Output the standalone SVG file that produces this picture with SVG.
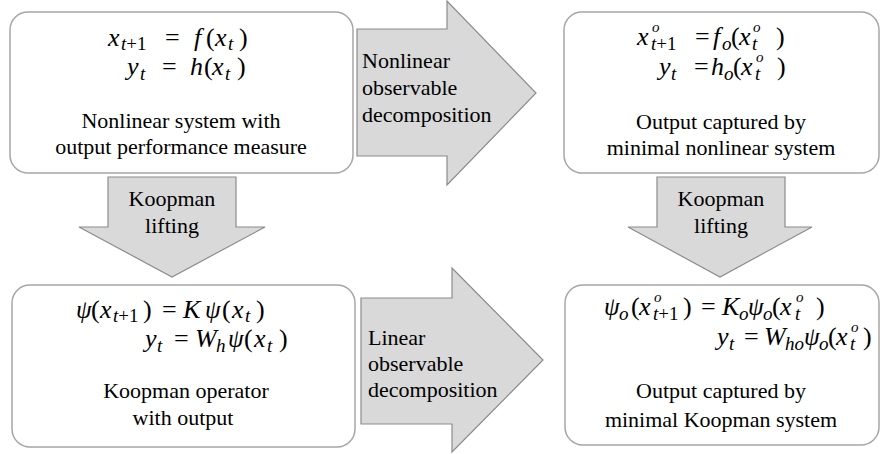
<svg xmlns="http://www.w3.org/2000/svg" width="882" height="454" viewBox="0 0 882 454" font-family="Liberation Serif">
<style>
.box{fill:#fff;stroke:#a6a6a6;stroke-width:1.5}
.arr{fill:#d9d9d9;stroke:#8c8c8c;stroke-width:1.2}
text{fill:#000}
.t{font-size:22px}
.c{text-anchor:middle}
.m{font-size:26px}
.i{font-style:italic}
.s{font-size:19px}
.p{font-size:15px}
.g{font-size:25px}
</style>
<rect width="882" height="454" fill="#fff"/>
<g id="connectors" font-family="Liberation Serif">
<g id="arrow-nonlinear-decomp">
<polygon class="arr" points="357,29 447,29 447,1 536,93 447,185 447,156 357,156"/>
<text class="t" font-family="Liberation Serif" x="362" y="68">Nonlinear</text>
<text class="t" font-family="Liberation Serif" x="362" y="95">observable</text>
<text class="t" font-family="Liberation Serif" x="362" y="122">decomposition</text>
</g>
<g id="arrow-linear-decomp">
<polygon class="arr" points="361,298 452,298 452,268 543,360 452,452 452,424 361,424"/>
<text class="t" font-family="Liberation Serif" x="368" y="345">Linear</text>
<text class="t" font-family="Liberation Serif" x="368" y="371">observable</text>
<text class="t" font-family="Liberation Serif" x="368" y="397">decomposition</text>
</g>
<g id="arrow-lift-left">
<polygon class="arr" points="108,177 236,177 236,227 265,227 172,277 79,227 108,227"/>
<text class="t c" font-family="Liberation Serif" x="172" y="206">Koopman</text>
<text class="t c" font-family="Liberation Serif" x="172" y="233">lifting</text>
</g>
<g id="arrow-lift-right">
<polygon class="arr" points="657,177 785,177 785,227 812,227 720,277 628,227 657,227"/>
<text class="t c" font-family="Liberation Serif" x="721" y="206">Koopman</text>
<text class="t c" font-family="Liberation Serif" x="721" y="233">lifting</text>
</g>
</g>
<g id="node-nonlinear" font-family="Liberation Serif">
<rect class="box" x="10" y="12" width="343" height="161" rx="18"/>
<text class="m" font-family="Liberation Serif"><tspan class="i" x="108" y="46">x</tspan><tspan class="s" x="121" y="50"><tspan class="i">t</tspan>+1</tspan><tspan x="165" y="46">=</tspan><tspan class="i" x="194" y="46">f</tspan><tspan x="206" y="46">(</tspan><tspan class="i" x="215" y="46">x</tspan><tspan class="s i" x="228" y="50">t</tspan><tspan x="239" y="46">)</tspan></text>
<text class="m" font-family="Liberation Serif"><tspan class="i" x="127" y="75">y</tspan><tspan class="s i" x="140" y="80">t</tspan><tspan x="162" y="75">=</tspan><tspan class="i" x="190" y="75">h</tspan><tspan x="204" y="75">(</tspan><tspan class="i" x="212" y="75">x</tspan><tspan class="s i" x="225" y="80">t</tspan><tspan x="237" y="75">)</tspan></text>
<text class="t c" font-family="Liberation Serif" x="181" y="128">Nonlinear system with</text>
<text class="t c" font-family="Liberation Serif" x="181" y="154">output performance measure</text>
</g>
<g id="node-minimal-nonlinear" font-family="Liberation Serif">
<rect class="box" x="564" y="12" width="315" height="161" rx="18"/>
<text class="m" font-family="Liberation Serif"><tspan class="i" x="637" y="45">x</tspan><tspan class="p i" x="652" y="32">o</tspan><tspan class="s" x="651" y="50"><tspan class="i">t</tspan>+1</tspan><tspan x="695" y="45">=</tspan><tspan class="i" x="713" y="45">f</tspan><tspan class="s i" x="722" y="50">o</tspan><tspan x="731" y="45">(</tspan><tspan class="i" x="739" y="45">x</tspan><tspan class="p i" x="753" y="32">o</tspan><tspan class="s i" x="752" y="50">t</tspan><tspan x="776" y="45">)</tspan></text>
<text class="m" font-family="Liberation Serif"><tspan class="i" x="659" y="75">y</tspan><tspan class="s i" x="671" y="80">t</tspan><tspan x="694" y="75">=</tspan><tspan class="i" x="711" y="75">h</tspan><tspan class="s i" x="724" y="80">o</tspan><tspan x="733" y="75">(</tspan><tspan class="i" x="741" y="75">x</tspan><tspan class="p i" x="756" y="62">o</tspan><tspan class="s i" x="755" y="80">t</tspan><tspan x="777" y="75">)</tspan></text>
<text class="t c" font-family="Liberation Serif" x="721" y="129">Output captured by</text>
<text class="t c" font-family="Liberation Serif" x="721" y="155">minimal nonlinear system</text>
</g>
<g id="node-koopman" font-family="Liberation Serif">
<rect class="box" x="12" y="285" width="343" height="162" rx="18"/>
<text class="m" font-family="Liberation Serif"><tspan class="i g" x="76" y="318">ψ</tspan><tspan x="91" y="318">(</tspan><tspan class="i" x="100" y="318">x</tspan><tspan class="s" x="113" y="322"><tspan class="i">t</tspan>+1</tspan><tspan x="143" y="318">)</tspan><tspan x="162" y="318">=</tspan><tspan class="i" x="183" y="318">K</tspan><tspan class="i g" x="205" y="318">ψ</tspan><tspan x="222" y="318">(</tspan><tspan class="i" x="232" y="318">x</tspan><tspan class="s i" x="245" y="322">t</tspan><tspan x="256" y="318">)</tspan></text>
<text class="m" font-family="Liberation Serif"><tspan class="i" x="145" y="347">y</tspan><tspan class="s i" x="157" y="352">t</tspan><tspan x="174" y="347">=</tspan><tspan class="i" x="195" y="347">W</tspan><tspan class="s i" x="216" y="352">h</tspan><tspan class="i g" x="228" y="347">ψ</tspan><tspan x="244" y="347">(</tspan><tspan class="i" x="254" y="347">x</tspan><tspan class="s i" x="267" y="352">t</tspan><tspan x="279" y="347">)</tspan></text>
<text class="t c" font-family="Liberation Serif" x="186" y="398">Koopman operator</text>
<text class="t c" font-family="Liberation Serif" x="183" y="425">with output</text>
</g>
<g id="node-minimal-koopman" font-family="Liberation Serif">
<rect class="box" x="565" y="285" width="314" height="160" rx="18"/>
<text class="m" font-family="Liberation Serif"><tspan class="i g" x="604" y="315">ψ</tspan><tspan class="s i" x="619" y="320">o</tspan><tspan x="631" y="315">(</tspan><tspan class="i" x="639" y="315">x</tspan><tspan class="p i" x="654" y="302">o</tspan><tspan class="s" x="653" y="320"><tspan class="i">t</tspan>+1</tspan><tspan x="683" y="315">)</tspan><tspan x="701" y="315">=</tspan><tspan class="i" x="722" y="315">K</tspan><tspan class="s i" x="739" y="320">o</tspan><tspan class="i g" x="748" y="315">ψ</tspan><tspan class="s i" x="763" y="320">o</tspan><tspan x="772" y="315">(</tspan><tspan class="i" x="780" y="315">x</tspan><tspan class="p i" x="796" y="302">o</tspan><tspan class="s i" x="795" y="320">t</tspan><tspan x="816" y="315">)</tspan></text>
<text class="m" font-family="Liberation Serif"><tspan class="i" x="717" y="345">y</tspan><tspan class="s i" x="729" y="350">t</tspan><tspan x="744" y="345">=</tspan><tspan class="i" x="764" y="345">W</tspan><tspan class="s i" x="785" y="350">ho</tspan><tspan class="i g" x="804" y="345">ψ</tspan><tspan class="s i" x="819" y="350">o</tspan><tspan x="828" y="345">(</tspan><tspan class="i" x="836" y="345">x</tspan><tspan class="p i" x="851" y="332">o</tspan><tspan class="s i" x="850" y="350">t</tspan><tspan x="863" y="345">)</tspan></text>
<text class="t c" font-family="Liberation Serif" x="721" y="398">Output captured by</text>
<text class="t c" font-family="Liberation Serif" x="721" y="427">minimal Koopman system</text>
</g>
</svg>
